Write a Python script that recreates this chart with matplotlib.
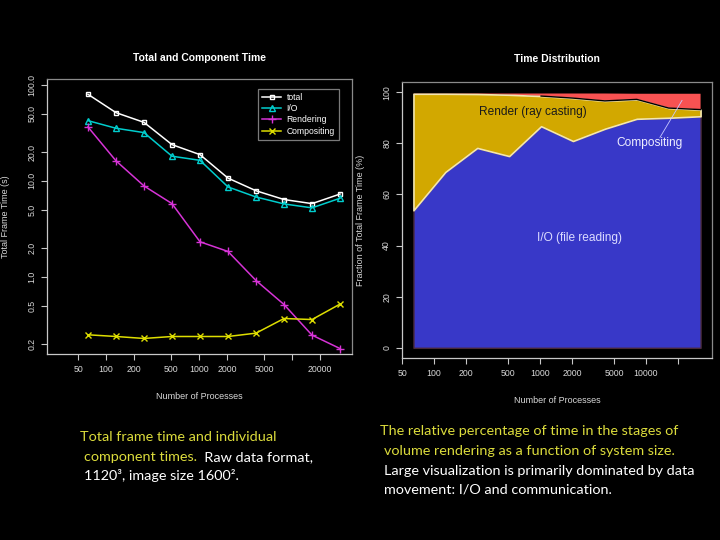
import matplotlib
matplotlib.use("Agg")
import matplotlib.pyplot as plt
import numpy as np

# processes
procs = [64, 128, 256, 512, 1024, 2048, 4096, 8192, 16384, 32768]

# left chart, seconds
total_time = [80, 51.5, 40.8, 23.9, 18.8, 10.7, 7.9, 6.4, 5.8, 7.3]
io_time = [42.5, 35.4, 31.9, 18.1, 16.4, 8.66, 6.8, 5.76, 5.24, 6.6]
render_time = [36.5, 16.2, 8.87, 5.8, 2.32, 1.84, 0.916, 0.515, 0.247, 0.179]
comp_time = [0.249, 0.239, 0.228, 0.239, 0.239, 0.239, 0.259, 0.368, 0.359, 0.52]

# right chart, percent of frame time
io_pct = [53.8, 68.8, 78.2, 75.0, 86.7, 80.9, 85.7, 89.6, 90.0, 90.6]
render_pct = [45.6, 30.6, 21.1, 24.0, 11.8, 16.8, 10.9, 7.6, 3.8, 2.6]
comp_pct = [0.1, 0.1, 0.2, 0.5, 1.0, 1.8, 2.9, 2.2, 5.6, 6.2]

left_yticks = [0.2, 0.5, 1.0, 2.0, 5.0, 10.0, 20.0, 50.0, 100.0]
left_xticks = [50, 100, 200, 500, 1000, 2000, 5000, 10000, 20000]
left_xlabels = ["50", "100", "200", "500", "1000", "2000", "5000", "", "20000"]
right_xticks = [50, 100, 200, 500, 1000, 2000, 5000, 10000, 20000]
right_xlabels = ["50", "100", "200", "500", "1000", "2000", "5000", "10000", ""]
right_yticks = [0, 20, 40, 60, 80, 100]

YELLOW = "#dcdc3c"
FG = "#d8d8d8"
CAP_FONT = ["Lato", "DejaVu Sans"]

plt.rcParams["font.family"] = ["Liberation Sans", "DejaVu Sans"]

fig = plt.figure(figsize=(7.2, 5.4), dpi=100, facecolor="black")


def style_axes(ax):
    ax.set_facecolor("black")
    for s in ["top", "right"]:
        ax.spines[s].set_color("#8a8a8a")
    for s in ["left", "bottom"]:
        ax.spines[s].set_color("#c8c8c8")
    for s in ax.spines.values():
        s.set_linewidth(0.9)
    ax.tick_params(colors="#c8c8c8", labelcolor=FG, labelsize=6.3, length=4.3, width=0.8)
    ax.tick_params(axis="y", labelrotation=90)
    ax.minorticks_off()
    for lab in ax.get_yticklabels():
        lab.set_va("center")


# ---- left: total and component time
ax1 = fig.add_axes([47 / 720, 1 - 354 / 540, 305 / 720, 275 / 540])
ax1.set_xscale("log")
ax1.set_yscale("log")
ax1.plot(procs, total_time, color="white", marker="s", mfc="none", ms=3.5, mew=1.0, lw=1.1, label="total")
ax1.plot(procs, io_time, color="#00cdcd", marker="^", mfc="none", ms=4, mew=1.0, lw=1.1, label="I/O")
ax1.plot(procs, render_time, color="#d633d6", marker="+", ms=5.5, mew=1.0, lw=1.1, label="Rendering")
ax1.plot(procs, comp_time, color="#dede00", marker="x", ms=4, mew=1.0, lw=1.1, label="Compositing")
ax1.set_xlim(23.2, 44100)
ax1.set_ylim(0.157, 115.5)
ax1.set_xticks(left_xticks)
ax1.set_xticklabels(left_xlabels)
ax1.set_yticks(left_yticks)
ax1.set_yticklabels(["%.1f" % v for v in left_yticks])
style_axes(ax1)
ax1.text(0.5, 1 + (79 - 58) / 275, "Total and Component Time", transform=ax1.transAxes,
         color="white", fontsize=7.5, fontweight="bold", ha="center", va="center")
ax1.set_xlabel("Number of Processes", color=FG, fontsize=6.5)
ax1.set_ylabel("Total Frame Time (s)", color=FG, fontsize=6.5)
ax1.xaxis.set_label_coords(0.5, -0.138)
ax1.yaxis.set_label_coords(-0.121, 0.5)
leg = ax1.legend(loc="upper right", bbox_to_anchor=(0.972, 0.98), fontsize=6.2, frameon=True,
                 facecolor="black", edgecolor="#9a9a9a", labelcolor="white", handlelength=2.2,
                 borderpad=0.5, labelspacing=0.25, handletextpad=0.6, fancybox=False)
leg.get_frame().set_linewidth(0.9)

# ---- right: time distribution
ax2 = fig.add_axes([402 / 720, 1 - 358 / 540, 310 / 720, 276 / 540])
ax2.set_xscale("log")
io_arr = np.array(io_pct)
ren_top = io_arr + np.array(render_pct)
comp_top = ren_top + np.array(comp_pct)
ax2.fill_between(procs, 0, io_arr, facecolor="#3838c8", edgecolor="#4a2a3a", lw=1.0)
ax2.fill_between(procs, ren_top, comp_top, facecolor="#f85252", edgecolor="none")
ax2.fill_between(procs, io_arr, ren_top, facecolor="#d2a800", edgecolor="#f3e6b0", lw=1.2)
ax2.plot(procs[4:], ren_top[4:], color="black", lw=1.0)
ax2.set_xlim(49.9, 42000)
ax2.set_ylim(-4, 104)
ax2.set_xticks(right_xticks)
ax2.set_xticklabels(right_xlabels)
ax2.set_yticks(right_yticks)
style_axes(ax2)
ax2.text(0.5, 1 + (82 - 59) / 276, "Time Distribution", transform=ax2.transAxes,
         color="white", fontsize=7.5, fontweight="bold", ha="center", va="center")
ax2.set_xlabel("Number of Processes", color=FG, fontsize=6.5)
ax2.set_ylabel("Fraction of Total Frame Time (%)", color=FG, fontsize=6.5)
ax2.xaxis.set_label_coords(0.5, -0.138)
ax2.yaxis.set_label_coords(-0.119, 0.5)
ax2.text(859, 92.1, "Render (ray casting)", color="#1a1a1a", fontsize=8.6, ha="center", va="center")
ax2.text(2380, 42.9, "I/O (file reading)", color="#dcdcff", fontsize=8.6, ha="center", va="center")
ax2.text(10900, 80.0, "Compositing", color="#eeeeff", fontsize=8.6, ha="center", va="center")
ax2.plot([13550, 21900], [82.3, 96.8], color="#c8c8ff", lw=0.6)

# ---- captions
def caption(x, y, parts):
    prev = None
    for txt, col in parts:
        if prev is None:
            prev = fig.text(x / 720, 1 - y / 540, txt, color=col, fontsize=10.4,
                            family=CAP_FONT, ha="left", va="center")
        else:
            prev = fig.add_artist(matplotlib.text.Annotation(
                txt, xy=(1, 0), xycoords=prev, xytext=(0, 0), textcoords="offset points",
                color=col, fontsize=10.4, family=CAP_FONT, ha="left", va="bottom"))


caption(80, 437, [("Total frame time and individual", YELLOW)])
caption(84, 457, [("component times.", YELLOW), ("  Raw data format,", "white")])
caption(84, 476, [("1120³, image size 1600².", "white")])

caption(380, 431, [("The relative percentage of time in the stages of", YELLOW)])
caption(384, 451, [("volume rendering as a function of system size.", YELLOW)])
caption(384, 471, [("Large visualization is primarily dominated by data", "white")])
caption(384, 490, [("movement: I/O and communication.", "white")])

fig.savefig("out.png", dpi=100, facecolor="black")
